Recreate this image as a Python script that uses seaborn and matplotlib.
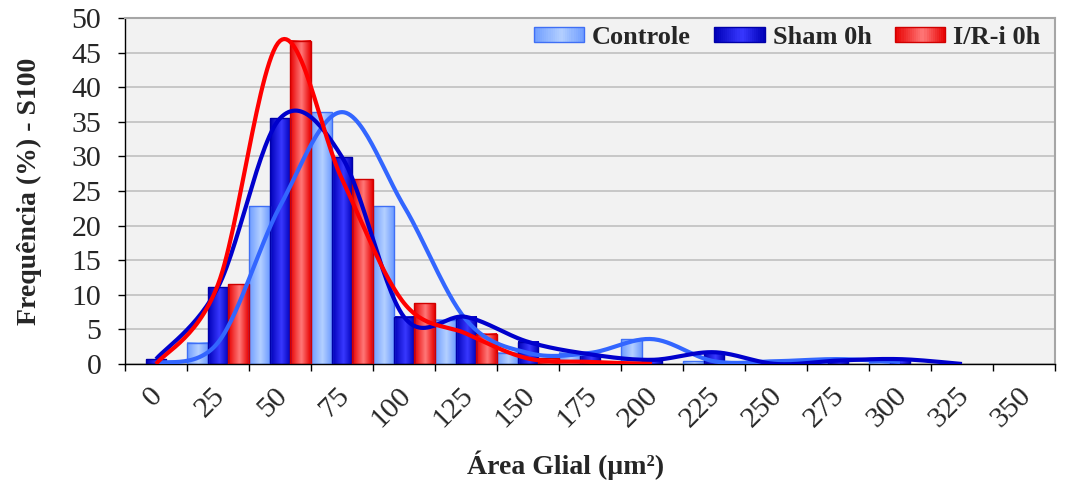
import numpy as np
import pandas as pd
import matplotlib
matplotlib.use("Agg")
import matplotlib.pyplot as plt
import matplotlib.transforms as mtransforms
from matplotlib.colors import LinearSegmentedColormap, to_rgb
from matplotlib.legend_handler import HandlerBase
from matplotlib.patches import Rectangle
import seaborn as sns

# ---- data -------------------------------------------------------------
categories = ["0", "25", "50", "75", "100", "125", "150", "175",
              "200", "225", "250", "275", "300", "325", "350"]
series_names = ["Controle", "Sham 0h", "I/R-i 0h"]
controle = [0.1, 3.1, 22.8, 36.4, 22.8, 6.4, 1.6, 1.6, 3.6, 0.4, 0.4, 0.7, 0.3, 0.0, 0.0]
sham     = [0.7, 11.1, 35.5, 29.9, 6.8, 6.8, 3.2, 1.4, 0.6, 1.7, 0.0, 0.5, 0.7, 0.0, 0.0]
ir_0h    = [0.0, 11.5, 46.7, 26.7, 8.8, 4.4, 0.8, 0.3, 0.0, 0.0, 0.0, 0.0, 0.0, 0.0, 0.0]
# number of classes covered by each smoothed trend curve
curve_points = [13, 14, 9]

# ---- styles -----------------------------------------------------------
line_colors = ["#3366FF", "#0000CC", "#FF0000"]
edge_colors = ["#3F6FF5", "#0000A8", "#D00000"]
grad_dark = ["#6E9CFF", "#0000B8", "#E80000"]
grad_light = ["#B4D0FF", "#3838FF", "#FF7878"]

sns.set_theme(style="white")
plt.rcParams["font.family"] = ["Liberation Serif", "DejaVu Serif"]

df = pd.DataFrame({
    "classe": categories * 3,
    "grupo": np.repeat(series_names, len(categories)),
    "freq": controle + sham + ir_0h,
})

fig = plt.figure(figsize=(10.65, 4.83), dpi=100)
ax = fig.add_axes([0.1174, 0.2464, 0.8732, 0.7163])
ax.set_facecolor("#F2F2F2")

sns.barplot(data=df, x="classe", y="freq", hue="grupo", order=categories,
            hue_order=series_names, palette=line_colors, width=1.0,
            errorbar=None, legend=False, ax=ax, zorder=2)


def grad_cmap(i):
    d, l = to_rgb(grad_dark[i]), to_rgb(grad_light[i])
    return LinearSegmentedColormap.from_list(
        f"g{i}", [(0.0, d), (0.55, l), (1.0, d)])


grad = np.linspace(0, 1, 64).reshape(1, -1)
for i, cont in enumerate(ax.containers):
    cmap = grad_cmap(i)
    for bar in cont:
        x, w, h = bar.get_x(), bar.get_width(), bar.get_height()
        bar.set_facecolor("none")
        bar.set_edgecolor(edge_colors[i])
        bar.set_linewidth(1.0)
        bar.set_zorder(3)
        if h <= 0.15:
            bar.set_visible(False)
            continue
        ax.imshow(grad, extent=[x, x + w, 0, h], aspect="auto", cmap=cmap,
                  interpolation="bilinear", zorder=2.5, origin="lower")


def smooth_curve(values, steps=30):
    """Cardinal (Catmull-Rom) Bezier smoothing through class centres."""
    pts = np.column_stack([np.arange(len(values), dtype=float),
                           np.asarray(values, dtype=float)])
    out = []
    n = len(pts)
    for k in range(n - 1):
        p0 = pts[max(k - 1, 0)]
        p1 = pts[k]
        p2 = pts[k + 1]
        p3 = pts[min(k + 2, n - 1)]
        c1 = p1 + (p2 - p0) / 6.0
        c2 = p2 - (p3 - p1) / 6.0
        t = np.linspace(0, 1, steps)[:, None]
        seg = ((1 - t) ** 3) * p1 + 3 * ((1 - t) ** 2) * t * c1 \
            + 3 * (1 - t) * t ** 2 * c2 + t ** 3 * p2
        out.append(seg if k == 0 else seg[1:])
    return np.vstack(out)


for i, vals in enumerate([controle, sham, ir_0h]):
    curve = smooth_curve(vals[:curve_points[i]])
    ax.plot(curve[:, 0], curve[:, 1], color=line_colors[i], lw=3.0,
            zorder=5, solid_capstyle="butt")

# ---- axes -------------------------------------------------------------
ax.set_xlim(-0.5, len(categories) - 0.5)
ax.set_ylim(0, 50)
ax.set_yticks(np.arange(0, 51, 5))
ax.yaxis.grid(True, color="#C4C4C4", lw=1.3, zorder=0)
ax.set_axisbelow(True)

ax.set_xticks(np.arange(-0.5, len(categories), 1.0))
ax.set_xticklabels([])
ax.set_xticks(np.arange(len(categories)), minor=True)
ax.set_xticklabels(categories, minor=True, rotation=45, ha="right",
                   va="center", rotation_mode="anchor", fontsize=21.5)
ax.tick_params(axis="x", which="minor", length=0, pad=20)
ax.tick_params(axis="x", which="major", length=5, width=1, color="black",
               direction="out", bottom=True)
ax.tick_params(axis="y", length=5, width=1, color="black", direction="out",
               left=True, labelsize=21.5, pad=12)
offset = mtransforms.ScaledTranslation(2 / 72, 0, fig.dpi_scale_trans)
for lbl in ax.get_xticklabels(minor=True):
    lbl.set_transform(lbl.get_transform() + offset)

for side in ["left", "bottom"]:
    ax.spines[side].set_color("black")
    ax.spines[side].set_linewidth(1.0)
for side in ["top", "right"]:
    ax.spines[side].set_color("#A6A6A6")
    ax.spines[side].set_linewidth(1.5)

ax.set_ylabel("Frequência (%) - S100", fontsize=20, fontweight="bold")
ax.yaxis.set_label_coords(-0.089, 0.5)
ax.set_xlabel("Área Glial (µm²)", fontsize=20, fontweight="bold")
ax.xaxis.set_label_coords(0.474, -0.25)


# ---- legend with gradient swatches -----------------------------------
class GradientHandler(HandlerBase):
    def __init__(self, idx):
        super().__init__()
        self.idx = idx

    def create_artists(self, legend, orig_handle, xdescent, ydescent,
                       width, height, fontsize, trans):
        cmap = grad_cmap(self.idx)
        n = 24
        arts = []
        for k in range(n):
            arts.append(Rectangle((-xdescent + width * k / n, -ydescent),
                                  width / n + 0.3, height,
                                  facecolor=cmap((k + 0.5) / n),
                                  edgecolor="none", transform=trans))
        arts.append(Rectangle((-xdescent, -ydescent), width, height,
                              facecolor="none", edgecolor=edge_colors[self.idx],
                              lw=1.0, transform=trans))
        return arts


handles = [Rectangle((0, 0), 1, 1) for _ in series_names]
ax.legend(handles, series_names, loc="upper right", ncol=3, frameon=False,
          handler_map={h: GradientHandler(i) for i, h in enumerate(handles)},
          prop={"size": 19, "weight": "bold"}, handlelength=1.9,
          handleheight=0.5, handletextpad=0.3, columnspacing=0.9,
          bbox_to_anchor=(1.0, 1.02), borderaxespad=0.15)

fig.savefig("out.png", dpi=100)
